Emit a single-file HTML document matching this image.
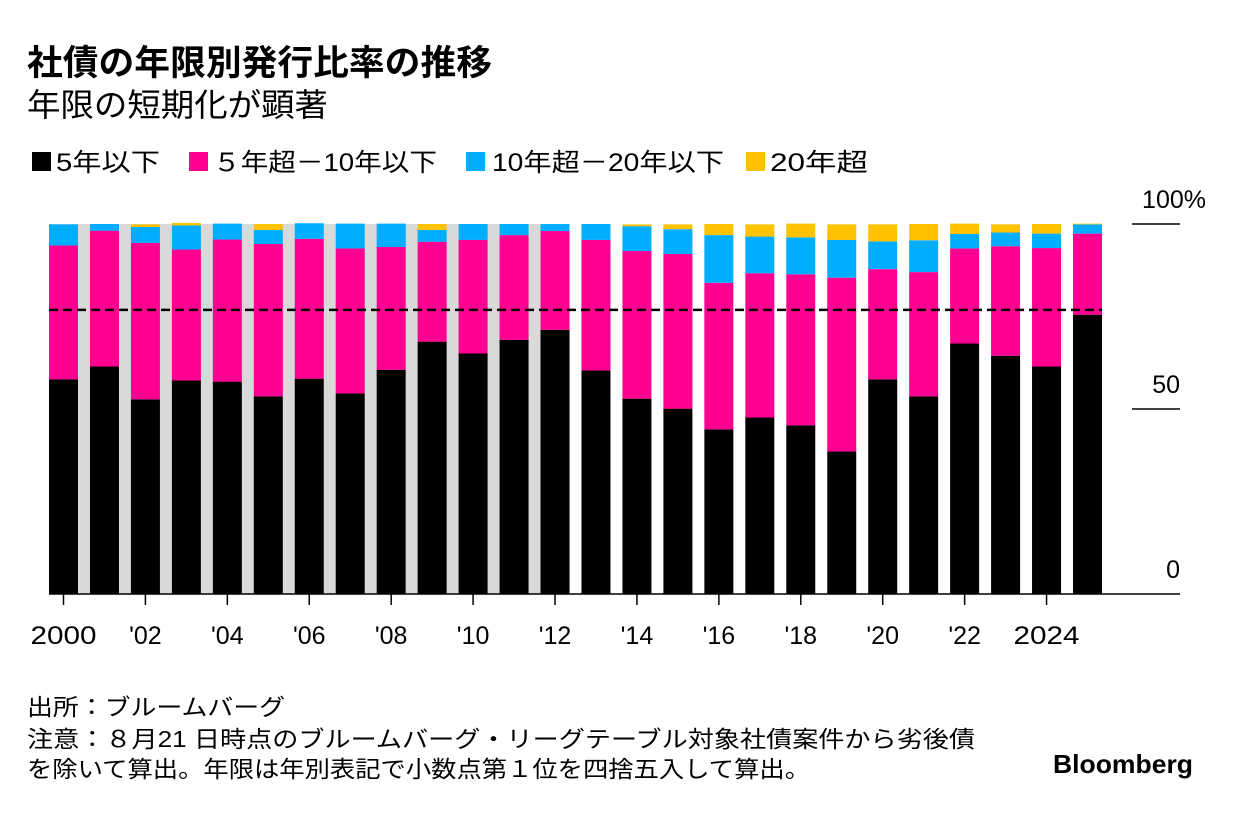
<!DOCTYPE html>
<html><head><meta charset="utf-8">
<style>
body{margin:0;background:#fff;width:1233px;height:808px;overflow:hidden;font-family:"Liberation Sans","Noto Sans CJK JP",sans-serif;}
svg text{font-family:"Liberation Sans","Noto Sans CJK JP",sans-serif;}
</style></head><body>
<svg id="chart" width="1233" height="808" xmlns="http://www.w3.org/2000/svg">
<text x="27" y="75" font-size="35" font-weight="bold" fill="#000" textLength="465" lengthAdjust="spacingAndGlyphs">社債の年限別発行比率の推移</text>
<text x="27" y="116" font-size="32" fill="#000" textLength="301" lengthAdjust="spacingAndGlyphs">年限の短期化が顕著</text>
<g font-size="25">
<rect x="32" y="152" width="19" height="19" fill="#000"/>
<text x="56" y="171" textLength="104" lengthAdjust="spacingAndGlyphs">5年以下</text>
<rect x="189" y="152" width="19" height="19" fill="#ff0090"/>
<text x="213" y="171" textLength="224" lengthAdjust="spacingAndGlyphs">５年超－10年以下</text>
<rect x="466" y="152" width="19" height="19" fill="#00adff"/>
<text x="492" y="171" textLength="232" lengthAdjust="spacingAndGlyphs">10年超－20年以下</text>
<rect x="746" y="152" width="19" height="19" fill="#ffc200"/>
<text x="770" y="171" textLength="98" lengthAdjust="spacingAndGlyphs">20年超</text>
</g>
<g id="plot"></g>
<g font-size="23" fill="#000">
<text x="27" y="715" textLength="258" lengthAdjust="spacingAndGlyphs">出所：ブルームバーグ</text>
<text x="27" y="747" textLength="948" lengthAdjust="spacingAndGlyphs">注意：８月21 日時点のブルームバーグ・リーグテーブル対象社債案件から劣後債</text>
<text x="27" y="777" textLength="783" lengthAdjust="spacingAndGlyphs">を除いて算出。年限は年別表記で小数点第１位を四捨五入して算出。</text>
</g>
<text x="1053" y="773" font-size="26" font-weight="bold" textLength="140" lengthAdjust="spacingAndGlyphs">Bloomberg</text>
</svg>
<script>
const years=[2000,2001,2002,2003,2004,2005,2006,2007,2008,2009,2010,2011,2012,2013,2014,2015,2016,2017,2018,2019,2020,2021,2022,2023,2024,2025];
const shortVals=[58.0,61.5,52.6,57.7,57.4,53.4,58.2,54.2,60.6,68.2,65.0,68.7,71.4,60.4,52.8,50.1,44.5,47.7,45.6,38.5,58.0,53.4,67.7,64.4,61.5,75.5];
const midVals=[36.2,36.7,42.3,35.4,38.4,41.2,37.8,39.2,33.2,27.0,30.7,28.3,26.7,35.3,39.9,41.8,39.6,39.0,40.8,47.0,29.8,33.6,25.7,29.6,32.0,21.9];
const longVals=[5.7,1.8,4.3,6.5,4.3,3.8,4.2,6.7,6.3,3.2,4.3,3.0,1.9,4.3,6.7,6.7,12.9,9.9,10.0,10.2,7.5,8.6,3.9,3.7,3.9,2.5];
const superVals=[0.0,0.0,0.7,0.7,0.0,1.6,0.0,0.0,0.0,1.6,0.0,0.0,0.0,0.0,0.5,1.3,3.0,3.3,3.7,4.2,4.6,4.4,2.8,2.2,2.6,0.2];
const avgLine=[76.8];
const yTicks=[0,50,100];
const yTickLabels=["0","50","100%"];
const xTickLabels={2000:"2000",2002:"'02",2004:"'04",2006:"'06",2008:"'08",2010:"'10",2012:"'12",2014:"'14",2016:"'16",2018:"'18",2020:"'20",2022:"'22",2024:"2024"};
const highlightEnd=2012;

const NS="http://www.w3.org/2000/svg";
const plot=document.getElementById('plot');
const y0=594,y100=224;
const yS=v=>y0-(v/100)*(y0-y100);
const xS=yr=>63.5+(yr-2000)*40.96;
const bw=29;
function mk(tag,attrs){const e=document.createElementNS(NS,tag);for(const k in attrs)e.setAttribute(k,attrs[k]);plot.appendChild(e);return e;}
const hb=mk('rect',{x:xS(2000)-bw/2,y:y100,width:xS(highlightEnd)+bw/2-(xS(2000)-bw/2),height:y0-y100,fill:'#d9d9d9'});


const series=[[shortVals,'#000','short'],[midVals,'#ff0090','mid'],[longVals,'#00adff','long'],[superVals,'#ffc200','superlong']];
years.forEach((yr,i)=>{
  let base=0;
  series.forEach(([arr,col,nm])=>{
    const v=arr[i];
    if(v>0){
      const r=mk('rect',{x:xS(yr)-bw/2,y:yS(base+v),width:bw,height:yS(base)-yS(base+v),fill:col});
      
      
    }
    base+=v;
  });
});
const dl=mk('line',{x1:xS(2000)-bw/2,x2:xS(2025)+bw/2,y1:yS(avgLine[0]),y2:yS(avgLine[0]),stroke:'#000','stroke-width':2.5,'stroke-dasharray':'9,5'});


const bl=mk('line',{x1:xS(2000)-bw/2,x2:1180,y1:y0,y2:y0,stroke:'#000','stroke-width':1.5});


yTicks.forEach((v,i)=>{
  if(v>0){
    const t=mk('line',{x1:1132,x2:1180,y1:yS(v),y2:yS(v),stroke:'#000','stroke-width':1.5});
    
    
  }
  const tx=mk('text',{x:1180,y:yS(v)-16,'font-size':25,'text-anchor':'end',fill:'#000'});
  if(v===100){tx.setAttribute('x',1206);}
  tx.textContent=yTickLabels[i];
  
  
});
Object.keys(xTickLabels).forEach(k=>{
  const yr=+k;
  const t=mk('line',{x1:xS(yr),x2:xS(yr),y1:y0,y2:y0+11,stroke:'#000','stroke-width':1.5});
  
  
  const tx=mk('text',{x:xS(yr),y:644,'font-size':25,'text-anchor':'middle',fill:'#000'});
  tx.textContent=xTickLabels[k];
  if(xTickLabels[k].length===4){tx.setAttribute('textLength',66);tx.setAttribute('lengthAdjust','spacingAndGlyphs');}
  
  
});
</script>
</body></html>
